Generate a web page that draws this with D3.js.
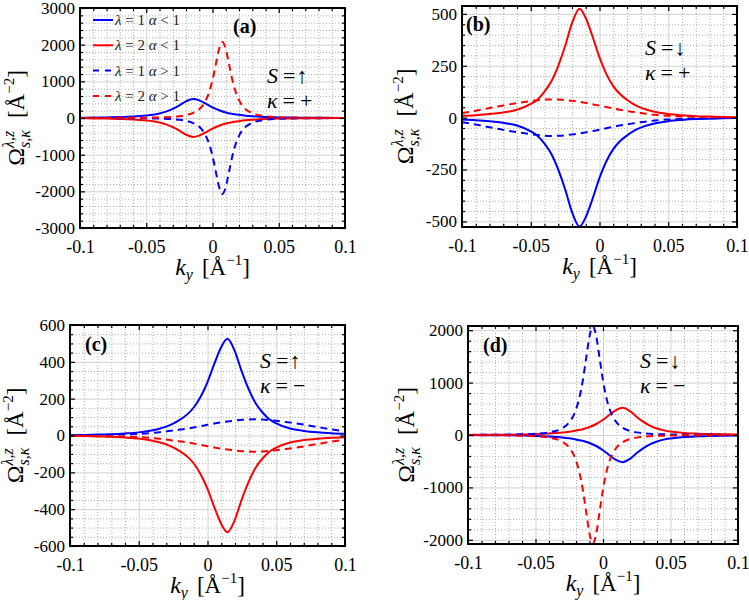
<!DOCTYPE html>
<html>
<head>
<meta charset="utf-8">
<script src="https://cdn.jsdelivr.net/npm/d3@7"></script>
<style>
body { margin: 0; background: #fff; }
svg { display: block; }
text { white-space: pre; }
</style>
</head>
<body>
<div id="chart"></div>
<script>
// k_y sample points [1/A]; kyD is denser around the sharp alpha>1 peaks
var kyS = [-0.1, -0.09, -0.08, -0.07, -0.06, -0.05, -0.045, -0.04, -0.035, -0.03, -0.025, -0.02, -0.0145, -0.01, -0.005, 0,
           0.005, 0.01, 0.0145, 0.02, 0.025, 0.03, 0.035, 0.04, 0.045, 0.05, 0.06, 0.07, 0.08, 0.09, 0.1];
var kyD = [-0.1, -0.08, -0.06, -0.05, -0.04, -0.03, -0.025, -0.02, -0.0175, -0.015, -0.0125, -0.01, -0.0075, -0.005, -0.0025, 0,
           0.0025, 0.005, 0.0075, 0.01, 0.0125, 0.015, 0.0175, 0.02, 0.025, 0.03, 0.04, 0.05, 0.06, 0.08, 0.1];

// (a) S = up, kappa = +
var aBlueSolid = [9, 12, 17, 25, 38, 66, 88, 125, 175, 250, 345, 455, 518, 480, 390, 290, 210, 152, 116, 86, 64, 48, 37, 28, 22, 17, 11, 7, 5, 3, 2];
var aRedSolid = [-9, -12, -17, -25, -38, -66, -88, -125, -175, -250, -345, -455, -518, -480, -390, -290, -210, -152, -116, -86, -64, -48, -37, -28, -22, -17, -11, -7, -5, -3, -2];
var aBlueDash = [-2, -3, -6, -10, -17, -33, -50, -78, -100, -132, -176, -241, -339, -486, -710, -1036, -1464, -1883, -2070, -1883, -1464, -1036, -710, -486, -241, -132, -50, -23, -13, -5, -2];
var aRedDash = [2, 3, 6, 10, 17, 33, 50, 78, 100, 132, 176, 241, 339, 486, 710, 1036, 1464, 1883, 2070, 1883, 1464, 1036, 710, 486, 241, 132, 50, 23, 13, 5, 2];

// (b) S = down, kappa = +
var bBlueSolid = [-9, -12, -17, -25, -38, -66, -88, -125, -175, -250, -345, -455, -525, -480, -390, -290, -210, -152, -116, -86, -64, -48, -37, -28, -22, -17, -11, -7, -5, -3, -2];
var bRedSolid = [9, 12, 17, 25, 38, 66, 88, 125, 175, 250, 345, 455, 525, 480, 390, 290, 210, 152, 116, 86, 64, 48, 37, 28, 22, 17, 11, 7, 5, 3, 2];
var bBlueDash = [-22, -33, -46, -59, -70, -80, -84, -87, -88, -87, -85, -81, -76, -71, -65, -58, -51, -44, -38, -32, -27, -22, -18, -14, -11, -9, -6, -4, -3, -2, -1];
var bRedDash = [22, 33, 46, 59, 70, 80, 84, 87, 88, 87, 85, 81, 76, 71, 65, 58, 51, 44, 38, 32, 27, 22, 18, 14, 11, 9, 6, 4, 3, 2, 1];

// (c) S = up, kappa = -
var cBlueSolid = [2, 3, 5, 7, 11, 17, 22, 28, 37, 48, 64, 86, 116, 152, 210, 290, 390, 480, 525, 455, 345, 250, 175, 125, 88, 66, 38, 25, 17, 12, 9];
var cRedSolid = [-2, -3, -5, -7, -11, -17, -22, -28, -37, -48, -64, -86, -116, -152, -210, -290, -390, -480, -525, -455, -345, -250, -175, -125, -88, -66, -38, -25, -17, -12, -9];
var cBlueDash = [1, 2, 3, 4, 6, 9, 11, 14, 18, 22, 27, 32, 38, 44, 51, 58, 65, 71, 76, 81, 85, 87, 88, 87, 84, 80, 70, 59, 46, 33, 22];
var cRedDash = [-1, -2, -3, -4, -6, -9, -11, -14, -18, -22, -27, -32, -38, -44, -51, -58, -65, -71, -76, -81, -85, -87, -88, -87, -84, -80, -70, -59, -46, -33, -22];

// (d) S = down, kappa = -
var dBlueSolid = [-2, -3, -5, -7, -11, -17, -22, -28, -37, -48, -64, -86, -116, -152, -210, -290, -390, -480, -518, -455, -345, -250, -175, -125, -88, -66, -38, -25, -17, -12, -9];
var dRedSolid = [2, 3, 5, 7, 11, 17, 22, 28, 37, 48, 64, 86, 116, 152, 210, 290, 390, 480, 518, 455, 345, 250, 175, 125, 88, 66, 38, 25, 17, 12, 9];
var dBlueDash = [2, 5, 13, 23, 50, 132, 241, 486, 710, 1036, 1464, 1883, 2070, 1883, 1464, 1036, 710, 486, 339, 241, 176, 132, 100, 78, 50, 33, 17, 10, 6, 3, 2];
var dRedDash = [-2, -5, -13, -23, -50, -132, -241, -486, -710, -1036, -1464, -1883, -2070, -1883, -1464, -1036, -710, -486, -339, -241, -176, -132, -100, -78, -50, -33, -17, -10, -6, -3, -2];

var xTicks = [-0.1, -0.05, 0, 0.05, 0.1];
var aYTicks = [-3000, -2000, -1000, 0, 1000, 2000, 3000];
var bYTicks = [-500, -250, 0, 250, 500];
var cYTicks = [-600, -400, -200, 0, 200, 400, 600];
var dYTicks = [-2000, -1000, 0, 1000, 2000];

var panelTags = ["(a)", "(b)", "(c)", "(d)"];
var spinLabels = ["↑", "↓", "↑", "↓"];
var kappaLabels = ["+", "+", "−", "−"];
var legendLabels = ["λ = 1 α < 1", "λ = 2 α < 1", "λ = 1 α > 1", "λ = 2 α > 1"];

var BLUE = "#0000ff", RED = "#ff0000";
var FONT = "'Liberation Serif', 'Times New Roman', Times, serif";

var svg = d3.select("#chart").append("svg")
    .attr("width", 749)
    .attr("height", 600)
    .style("font-family", FONT);

var panels = [
  { x0: 80, x1: 345, y0: 8, y1: 228, ydom: [-3000, 3000], yticks: aYTicks, ystep: 200,
    lines: [[kyS, aBlueSolid, BLUE, 0], [kyS, aRedSolid, RED, 0], [kyD, aBlueDash, BLUE, 1], [kyD, aRedDash, RED, 1]],
    tag: [233, 33], note: [267, 83, 108], ylab: 24 },
  { x0: 462, x1: 737, y0: 6, y1: 227, ydom: [-527, 538], yticks: bYTicks, ystep: 50,
    lines: [[kyS, bBlueSolid, BLUE, 0], [kyS, bRedSolid, RED, 0], [kyS, bBlueDash, BLUE, 1], [kyS, bRedDash, RED, 1]],
    tag: [466, 31], note: [645, 55, 80], ylab: 413 },
  { x0: 70, x1: 345, y0: 325, y1: 546, ydom: [-600, 600], yticks: cYTicks, ystep: 50,
    lines: [[kyS, cBlueSolid, BLUE, 0], [kyS, cRedSolid, RED, 0], [kyS, cBlueDash, BLUE, 1], [kyS, cRedDash, RED, 1]],
    tag: [85, 351], note: [260, 368, 393], ylab: 23 },
  { x0: 468, x1: 738, y0: 326, y1: 544, ydom: [-2080, 2080], yticks: dYTicks, ystep: 200,
    lines: [[kyS, dBlueSolid, BLUE, 0], [kyS, dRedSolid, RED, 0], [kyD, dBlueDash, BLUE, 1], [kyD, dRedDash, RED, 1]],
    tag: [483, 352], note: [640, 368, 393], ylab: 414 }
];

// lays out text pieces (base, super/subscripts) side by side, centred on 0
function mathLabel(parent, parts) {
  var grp = parent.append("g");
  var cursor = 0, lastStart = 0;
  parts.forEach(function(p) {
    var start = p.under ? lastStart : cursor;
    var t = grp.append("text")
        .attr("x", start)
        .attr("y", p.dy || 0)
        .attr("font-size", p.size)
        .attr("font-style", p.it ? "italic" : null)
        .text(p.t);
    var end = start + t.node().getComputedTextLength() + (p.gap || 0);
    cursor = p.under ? Math.max(cursor, end) : end;
    lastStart = start;
  });
  grp.attr("transform", "translate(" + (-cursor / 2) + ",0)");
}

function clean(sel) { sel.select(".domain").remove(); }

panels.forEach(function(p, i) {
  var x = d3.scaleLinear().domain([-0.1, 0.1]).range([p.x0, p.x1]);
  var y = d3.scaleLinear().domain(p.ydom).range([p.y1, p.y0]);
  var w = p.x1 - p.x0, h = p.y1 - p.y0;
  var g = svg.append("g");

  var xMinor = d3.range(-10, 11).map(function(k) { return k / 100; })
      .filter(function(v) { return xTicks.indexOf(v) < 0; });
  var yMinor = d3.range(Math.ceil(p.ydom[0] / p.ystep), Math.floor(p.ydom[1] / p.ystep) + 1)
      .map(function(k) { return k * p.ystep; })
      .filter(function(v) { return p.yticks.indexOf(v) < 0; });

  // grid
  function grid(axis, tx, ty, minor) {
    g.append("g")
        .attr("transform", "translate(" + tx + "," + ty + ")")
        .call(axis.tickFormat(""))
        .call(clean)
        .selectAll("line")
        .attr("stroke", minor ? "#b0b0b0" : "#d2d2d2")
        .attr("stroke-width", 1)
        .attr("stroke-dasharray", minor ? "1,2" : null);
  }
  grid(d3.axisBottom(x).tickValues(xMinor).tickSize(-h), 0, p.y1, true);
  grid(d3.axisLeft(y).tickValues(yMinor).tickSize(-w), p.x0, 0, true);
  grid(d3.axisBottom(x).tickValues(xTicks).tickSize(-h), 0, p.y1, false);
  grid(d3.axisLeft(y).tickValues(p.yticks).tickSize(-w), p.x0, 0, false);

  // curves
  var clipId = "clip" + i;
  svg.append("clipPath").attr("id", clipId)
    .append("rect").attr("x", p.x0).attr("y", p.y0).attr("width", w).attr("height", h);

  var line = d3.line()
      .x(function(d) { return x(d[0]); })
      .y(function(d) { return y(d[1]); })
      .curve(d3.curveMonotoneX);

  p.lines.forEach(function(s) {
    g.append("path")
        .datum(d3.zip(s[0], s[1]))
        .attr("clip-path", "url(#" + clipId + ")")
        .attr("fill", "none")
        .attr("stroke", s[2])
        .attr("stroke-width", 2)
        .attr("stroke-dasharray", s[3] ? "7,5" : null)
        .attr("d", line);
  });

  // frame
  g.append("rect")
      .attr("x", p.x0).attr("y", p.y0)
      .attr("width", w).attr("height", h)
      .attr("fill", "none")
      .attr("stroke", "#000")
      .attr("stroke-width", 2);

  // inward ticks on all sides
  function ticks(axis, tx, ty) {
    g.append("g")
        .attr("transform", "translate(" + tx + "," + ty + ")")
        .call(axis.tickFormat(""))
        .call(clean)
        .selectAll("line").attr("stroke", "#000").attr("stroke-width", 1.2);
  }
  [[xTicks, 5], [xMinor, 3]].forEach(function(t) {
    ticks(d3.axisBottom(x).tickValues(t[0]).tickSize(-t[1]), 0, p.y1);
    ticks(d3.axisTop(x).tickValues(t[0]).tickSize(-t[1]), 0, p.y0);
  });
  [[p.yticks, 5], [yMinor, 3]].forEach(function(t) {
    ticks(d3.axisLeft(y).tickValues(t[0]).tickSize(-t[1]), p.x0, 0);
    ticks(d3.axisRight(y).tickValues(t[0]).tickSize(-t[1]), p.x1, 0);
  });

  // tick labels
  g.append("g")
      .attr("transform", "translate(0," + p.y1 + ")")
      .call(d3.axisBottom(x).tickValues(xTicks).tickSize(0).tickPadding(12).tickFormat(String))
      .call(clean)
      .attr("font-family", FONT)
      .attr("font-size", 18);
  g.append("g")
      .attr("transform", "translate(" + p.x0 + ",0)")
      .call(d3.axisLeft(y).tickValues(p.yticks).tickSize(0).tickPadding(5).tickFormat(String))
      .call(clean)
      .attr("font-family", FONT)
      .attr("font-size", 17);

  // axis titles
  var xl = g.append("g").attr("transform", "translate(" + ((p.x0 + p.x1) / 2) + "," + (p.y1 + 47) + ")");
  mathLabel(xl, [
    { t: "k", size: 24, it: true },
    { t: "y", size: 16, it: true, dy: 5, gap: 9 },
    { t: "[Å", size: 23 },
    { t: "−1", size: 15, dy: -10 },
    { t: "]", size: 23 }
  ]);
  var yl = g.append("g").attr("transform", "translate(" + p.ylab + "," + ((p.y0 + p.y1) / 2) + ") rotate(-90)");
  mathLabel(yl, [
    { t: "Ω", size: 24 },
    { t: "λ,z", size: 16, it: true, dy: -10 },
    { t: "s,κ", size: 16, it: true, dy: 6, under: true, gap: 12 },
    { t: "[Å", size: 23 },
    { t: "−2", size: 15, dy: -10 },
    { t: "]", size: 23 }
  ]);

  // panel tag and spin / valley notes
  g.append("text")
      .attr("x", p.tag[0]).attr("y", p.tag[1])
      .attr("font-size", 20)
      .attr("font-weight", "bold")
      .text(panelTags[i]);

  var s = g.append("text").attr("x", p.note[0]).attr("y", p.note[1]).attr("font-size", 22);
  s.append("tspan").attr("font-style", "italic").text("S");
  s.append("tspan").attr("dx", 5).text("=");
  s.append("tspan").attr("dx", 1).text(spinLabels[i]);
  var k = g.append("text").attr("x", p.note[0]).attr("y", p.note[2]).attr("font-size", 22);
  k.append("tspan").attr("font-style", "italic").text("κ");
  k.append("tspan").attr("dx", 5).text("=");
  k.append("tspan").attr("dx", 5).text(kappaLabels[i]);

  // legend only in (a)
  if (i === 0) {
    p.lines.forEach(function(l, j) {
      var ly = 20 + j * 25.3;
      g.append("line")
          .attr("x1", 93).attr("x2", 113)
          .attr("y1", ly).attr("y2", ly)
          .attr("stroke", l[2])
          .attr("stroke-width", 2)
          .attr("stroke-dasharray", l[3] ? "6,6" : null);
      var t = g.append("text")
          .attr("x", 115).attr("y", ly + 5)
          .attr("font-size", 15)
          .attr("fill", "#222");
      legendLabels[j].split(/([λα])/).forEach(function(part) {
        if (!part) return;
        t.append("tspan")
            .attr("font-style", /[λα]/.test(part) ? "italic" : null)
            .text(part);
      });
    });
  }
});
</script>
</body>
</html>
